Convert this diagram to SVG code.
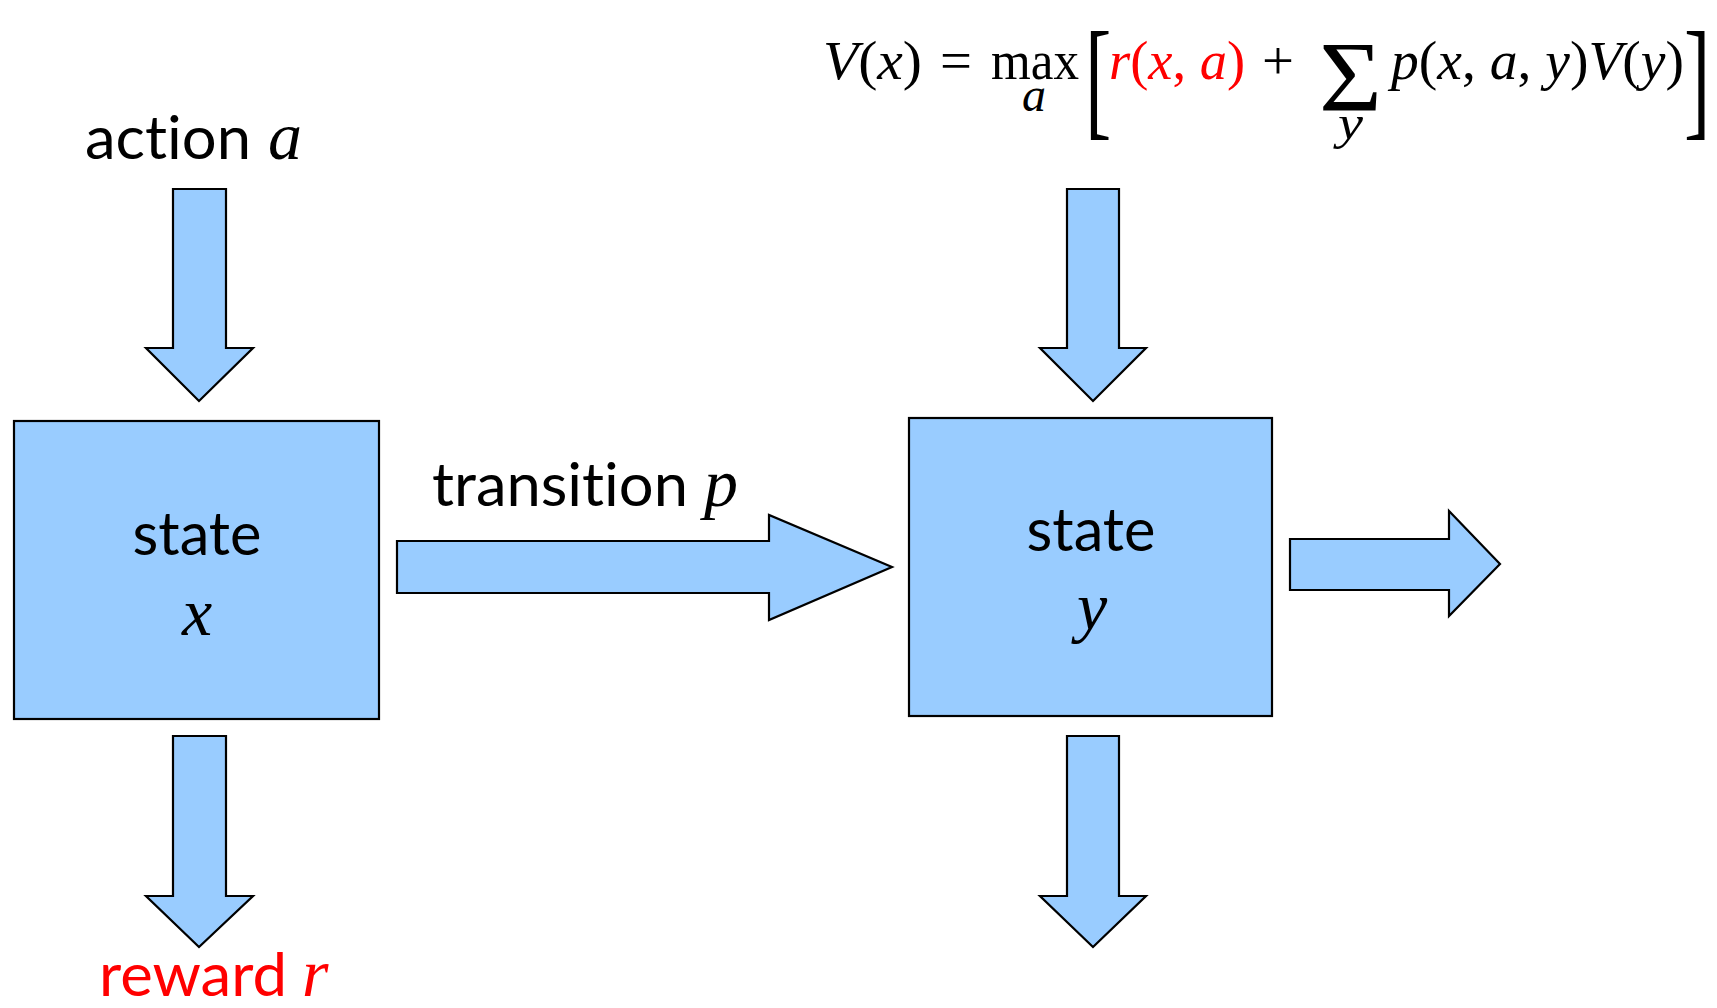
<svg xmlns="http://www.w3.org/2000/svg" width="1717" height="1008" viewBox="0 0 1717 1008">
<style>
.box{fill:#99CCFF;stroke:#000;stroke-width:2.2}
.arr{fill:#99CCFF;stroke:#000;stroke-width:2.2;stroke-linejoin:miter}
.lbl{font-family:Lato,"Open Sans",sans-serif;font-size:60px;fill:#000;font-variant-ligatures:none}
.var{font-family:"Liberation Serif",serif;font-style:italic;font-size:68px;fill:#000}
.m{font-family:"Liberation Serif",serif;font-size:54px;fill:#000}
.big{font-size:132px}
.sig{font-size:100px}
.sub{font-size:48px}
.red{fill:#FF0000}
.it{font-style:italic}
</style>
<rect width="1717" height="1008" fill="#fff"/>
<g id="connectors">
<polygon class="arr" points="173,189 226,189 226,348 253,348 199,401 146,348 173,348"/>
<polygon class="arr" points="173,736 226,736 226,896 253,896 199,947 146,896 173,896"/>
<polygon class="arr" points="1067,189 1119,189 1119,348 1146,348 1093,401 1040,348 1067,348"/>
<polygon class="arr" points="1067,736 1119,736 1119,896 1146,896 1093,947 1040,896 1067,896"/>
<polygon class="arr" points="397,541 769,541 769,515 892,567 769,620 769,593 397,593"/>
<polygon class="arr" points="1290,539 1449,539 1449,511 1500,564 1449,616 1449,590 1290,590"/>
</g>
<g id="state-x">
<rect class="box" x="14" y="421" width="365" height="298"/>
<text class="lbl" x="197" y="555" text-anchor="middle" textLength="129" lengthAdjust="spacingAndGlyphs">state</text>
<text class="var" x="197" y="635" text-anchor="middle">x</text>
</g>
<g id="state-y">
<rect class="box" x="909" y="418" width="363" height="298"/>
<text class="lbl" x="1091" y="551" text-anchor="middle" textLength="129" lengthAdjust="spacingAndGlyphs">state</text>
<text class="var" x="1092" y="630" text-anchor="middle">y</text>
</g>
<g id="label-action">
<text class="lbl" x="85" y="159" textLength="166" lengthAdjust="spacingAndGlyphs">action</text>
<text class="var" x="268" y="159">a</text>
</g>
<g id="label-transition">
<text class="lbl" x="432" y="506" textLength="256" lengthAdjust="spacingAndGlyphs">transition</text>
<text class="var" x="704" y="506">p</text>
</g>
<g id="label-reward">
<text class="lbl red" x="99" y="996" textLength="188" lengthAdjust="spacingAndGlyphs">reward</text>
<text class="var red" x="302" y="996">r</text>
</g>
<g id="formula">
<text class="m" x="823" y="79" textLength="99" lengthAdjust="spacingAndGlyphs"><tspan class="it">V</tspan>(<tspan class="it">x</tspan>)</text>
<text class="m" x="940" y="79" textLength="32" lengthAdjust="spacingAndGlyphs">=</text>
<text class="m" x="991" y="79" textLength="88" lengthAdjust="spacingAndGlyphs">max</text>
<text class="m sub it" x="1022" y="111" textLength="24" lengthAdjust="spacingAndGlyphs">a</text>
<text class="m big" x="1085" y="122" transform="translate(1085,0) scale(0.6,1) translate(-1085,0)">[</text>
<text class="m red" x="1109" y="79" textLength="136" lengthAdjust="spacingAndGlyphs"><tspan class="it">r</tspan>(<tspan class="it">x</tspan>, <tspan class="it">a</tspan>)</text>
<text class="m" x="1262" y="79" textLength="32" lengthAdjust="spacingAndGlyphs">+</text>
<text class="m sig" x="1319" y="110" textLength="63" lengthAdjust="spacingAndGlyphs">Σ</text>
<text class="m sub it" x="1338" y="139" textLength="25" lengthAdjust="spacingAndGlyphs">y</text>
<text class="m" x="1391" y="79" textLength="293" lengthAdjust="spacingAndGlyphs"><tspan class="it">p</tspan>(<tspan class="it">x</tspan>, <tspan class="it">a</tspan>, <tspan class="it">y</tspan>)<tspan class="it">V</tspan>(<tspan class="it">y</tspan>)</text>
<text class="m big" x="1684" y="122" transform="translate(1684,0) scale(0.6,1) translate(-1684,0)">]</text>
</g>
</svg>
